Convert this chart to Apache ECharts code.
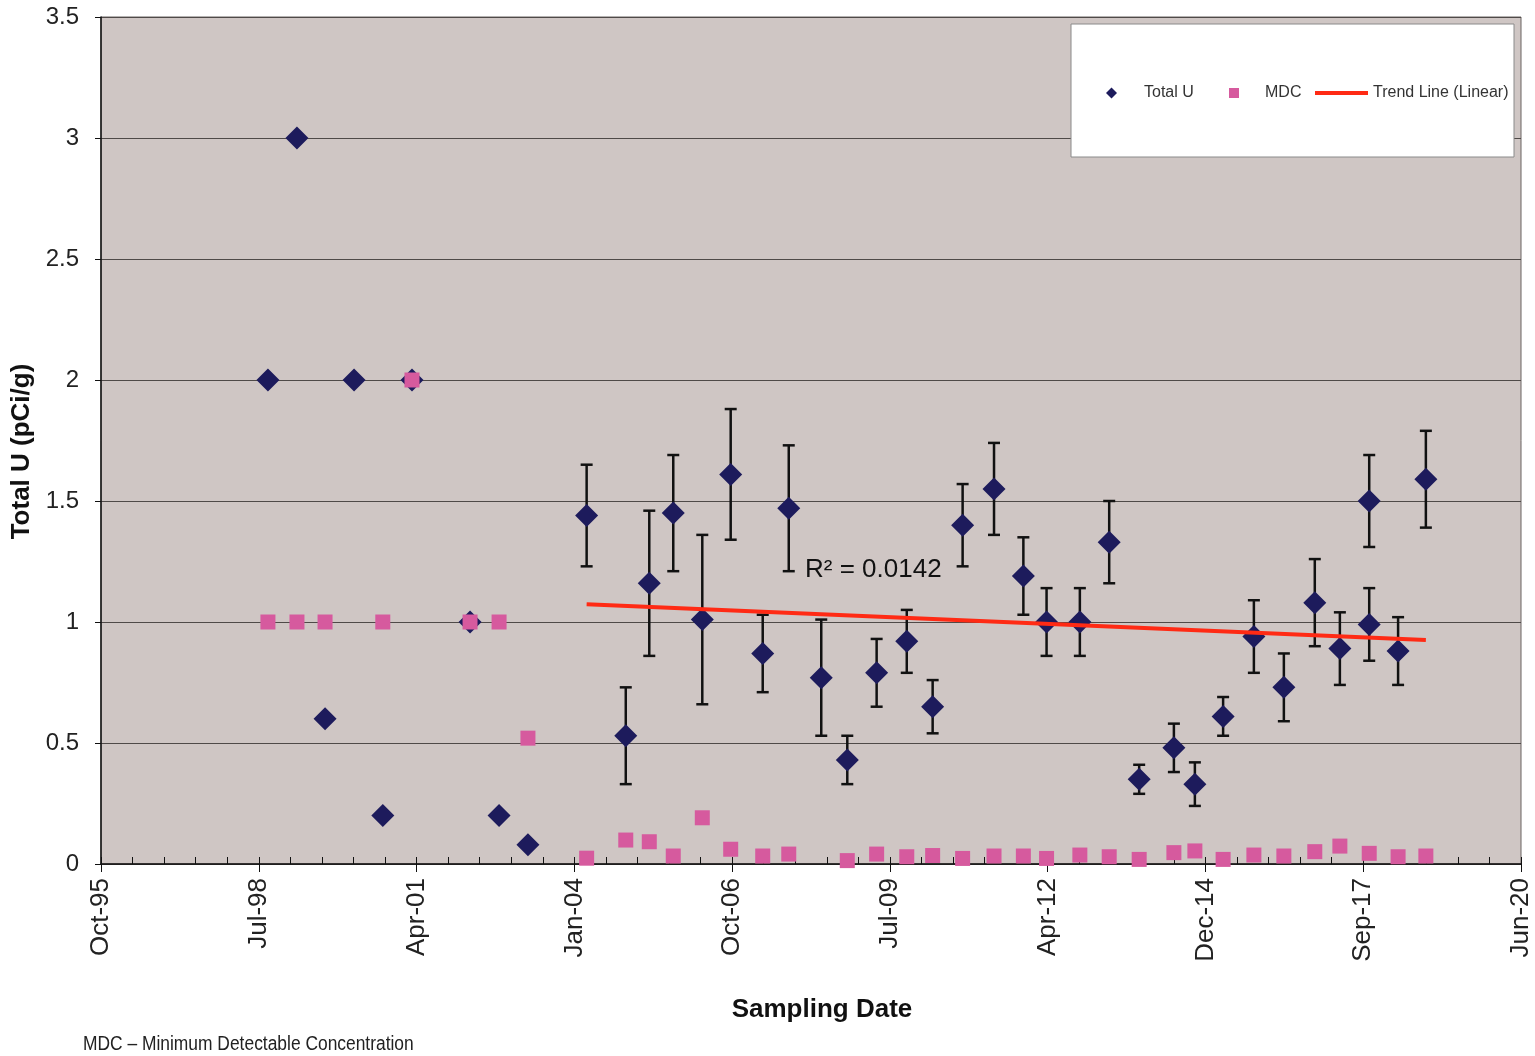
<!DOCTYPE html>
<html>
<head>
<meta charset="utf-8">
<title>Total U</title>
<script src="https://cdn.jsdelivr.net/npm/echarts@6/dist/echarts.min.js"></script>
<style>
  html, body { margin: 0; padding: 0; background: #fff; }
  #main { width: 1535px; height: 1056px; }
</style>
</head>
<body>
<div id="main"></div>
<script>
// sampling dates, results and 1-sigma errors (null where no bar is drawn)
const uDates = ['1998-09-20', '1999-03-23', '1999-09-17', '2000-03-19', '2000-09-17', '2001-03-21', '2002-03-24', '2002-09-24', '2003-03-26',
    '2004-04-01', '2004-12-05', '2005-05-03', '2005-10-02', '2006-04-04', '2006-10-01', '2007-04-22', '2007-10-04', '2008-04-27', '2008-10-09',
    '2009-04-13', '2009-10-21', '2010-04-03', '2010-10-10', '2011-04-27', '2011-10-30', '2012-03-25', '2012-10-22', '2013-04-26', '2013-11-02',
    '2014-06-10', '2014-10-21', '2015-04-18', '2015-10-30', '2016-05-07', '2016-11-19', '2017-04-27', '2017-10-30', '2017-10-30', '2018-05-01',
    '2018-10-24'];
const uValues = [2.0, 3.0, 0.6, 2.0, 0.2, 2.0, 1.0, 0.2, 0.08,
    1.44, 0.53, 1.16, 1.45, 1.01, 1.61, 0.87, 1.47, 0.77, 0.43,
    0.79, 0.92, 0.65, 1.40, 1.55, 1.19, 1.00, 1.00, 1.33, 0.35,
    0.48, 0.33, 0.61, 0.94, 0.73, 1.08, 0.89, 1.50, 0.99, 0.88,
    1.59];
const uErrors = [null, null, null, null, null, null, null, null, null,
    0.21, 0.20, 0.30, 0.24, 0.35, 0.27, 0.16, 0.26, 0.24, 0.10,
    0.14, 0.13, 0.11, 0.17, 0.19, 0.16, 0.14, 0.14, 0.17, 0.06,
    0.10, 0.09, 0.08, 0.15, 0.14, 0.18, 0.15, 0.19, 0.15, 0.14,
    0.20];

const mdcDates = ['1998-09-20', '1999-03-23', '1999-09-17', '2000-09-17', '2001-03-21', '2002-03-24', '2002-09-24', '2003-03-26',
    '2004-04-01', '2004-12-05', '2005-05-03', '2005-10-02', '2006-04-04', '2006-10-01', '2007-04-22', '2007-10-04',
    '2008-10-09', '2009-04-13', '2009-10-21', '2010-04-03',
    '2010-10-10', '2011-04-27', '2011-10-30', '2012-03-25', '2012-10-22', '2013-04-26', '2013-11-02', '2014-06-10', '2014-10-21',
    '2015-04-18', '2015-10-30', '2016-05-07', '2016-11-19', '2017-04-27', '2017-10-30', '2018-05-01', '2018-10-24'];
const mdcValues = [1, 1, 1, 1, 2, 1, 1, 0.52,
    0.024, 0.099, 0.092, 0.033, 0.191, 0.061, 0.033, 0.041,
    0.014, 0.041, 0.030, 0.035,
    0.023, 0.033, 0.033, 0.023, 0.037, 0.030, 0.019, 0.047, 0.054,
    0.019, 0.037, 0.033, 0.051, 0.074, 0.044, 0.030, 0.033];

const trendDates = ['2004-04-01', '2018-10-24'];
const trendValues = [1.073, 0.926];
const trendLabel = 'R² = 0.0142';

const xTicks = { min: 35000, max: 44000, step: 1000 };   // spreadsheet day numbers
const yTicks = { min: 0, max: 3.5, step: 0.5 };

const MONTHS = ['Jan', 'Feb', 'Mar', 'Apr', 'May', 'Jun', 'Jul', 'Aug', 'Sep', 'Oct', 'Nov', 'Dec'];
const EPOCH = Date.UTC(1899, 11, 30);

function toSerial(s) {
    const [y, m, d] = s.split('-').map(Number);
    return Math.round((Date.UTC(y, m - 1, d) - EPOCH) / 86400000);
}

function serialLabel(v) {
    const d = new Date(EPOCH + v * 86400000);
    return MONTHS[d.getUTCMonth()] + '-' + String(d.getUTCFullYear() % 100).padStart(2, '0');
}

const uData = uDates.map((d, i) => [toSerial(d), uValues[i]]);
const errData = [];
uDates.forEach((d, i) => {
    if (uErrors[i] != null) errData.push([toSerial(d), uValues[i], uErrors[i]]);
});
const mdcData = mdcDates.map((d, i) => [toSerial(d), mdcValues[i]]);
const trendData = trendDates.map((d, i) => [toSerial(d), trendValues[i]]);

const FONT = '"Liberation Sans", Arial, sans-serif';

const chart = echarts.init(document.getElementById('main'));

chart.setOption({
    animation: false,
    backgroundColor: '#ffffff',
    textStyle: { fontFamily: FONT },
    grid: {
        left: 101, right: 14, top: 17, bottom: 192,
        show: true, backgroundColor: '#cfc6c4', borderColor: '#6a6462', borderWidth: 1
    },
    legend: [
        {
            data: [{ name: 'Total U', icon: 'diamond' }],
            left: 1106, top: 85, padding: 0, itemWidth: 11, itemHeight: 11,
            textStyle: { fontSize: 16, color: '#333', fontFamily: FONT, padding: [0, 0, 0, 22] },
            z: 6
        },
        {
            data: [{ name: 'MDC', icon: 'rect' }],
            left: 1229, top: 85, padding: 0, itemWidth: 10, itemHeight: 10,
            textStyle: { fontSize: 16, color: '#333', fontFamily: FONT, padding: [0, 0, 0, 21] },
            z: 6
        },
        {
            data: [{ name: 'Trend Line (Linear)', icon: 'rect' }],
            left: 1315, top: 85, padding: 0, itemWidth: 53, itemHeight: 4,
            textStyle: { fontSize: 16, color: '#333', fontFamily: FONT },
            z: 6
        }
    ],
    xAxis: [
        {
            type: 'value',
            min: xTicks.min, max: xTicks.max, interval: xTicks.step,
            axisLine: { lineStyle: { color: '#111', width: 1.5 } },
            axisTick: { show: true, length: 8, lineStyle: { color: '#111' } },
            axisLabel: {
                rotate: 90, fontSize: 26, color: '#222', margin: 14,
                formatter: serialLabel
            },
            splitLine: { show: false },
            name: 'Sampling Date',
            nameLocation: 'middle',
            nameGap: 133,
            nameTextStyle: { fontSize: 26, fontWeight: 'bold', color: '#111', padding: [0, 0, 0, 22] }
        },
        {
            type: 'value',
            position: 'bottom',
            min: xTicks.min, max: xTicks.max, interval: xTicks.step,
            axisLine: { show: false },
            axisLabel: { show: false },
            axisTick: { show: true, inside: true, length: 7, lineStyle: { color: '#111' } },
            minorTick: { show: true, splitNumber: 5, length: 7, lineStyle: { color: '#111' } },
            splitLine: { show: false }
        }
    ],
    yAxis: {
        type: 'value',
        min: yTicks.min, max: yTicks.max, interval: yTicks.step,
        axisLine: { show: true, lineStyle: { color: '#111', width: 1.5 } },
        axisTick: { show: true, length: 6, lineStyle: { color: '#111' } },
        axisLabel: { fontSize: 24, color: '#222', margin: 22 },
        splitLine: { show: true, lineStyle: { color: '#4f4a48', width: 1 } },
        name: 'Total U (pCi/g)',
        nameLocation: 'middle',
        nameRotate: 90,
        nameGap: 63,
        nameTextStyle: { fontSize: 26, fontWeight: 'bold', color: '#111', padding: [0, 22, 0, 0] }
    },
    series: [
        {
            name: 'error',
            type: 'custom',
            z: 2,
            data: errData,
            encode: { x: 0, y: 1 },
            renderItem: function (params, api) {
                const x = api.value(0), y = api.value(1), e = api.value(2);
                const top = api.coord([x, y + e]);
                const bot = api.coord([x, y - e]);
                const w = 6;
                const style = { stroke: '#111', lineWidth: 2.5 };
                return {
                    type: 'group',
                    children: [
                        { type: 'line', shape: { x1: top[0], y1: top[1], x2: bot[0], y2: bot[1] }, style: style },
                        { type: 'line', shape: { x1: top[0] - w, y1: top[1], x2: top[0] + w, y2: top[1] }, style: style },
                        { type: 'line', shape: { x1: bot[0] - w, y1: bot[1], x2: bot[0] + w, y2: bot[1] }, style: style }
                    ]
                };
            }
        },
        {
            name: 'Total U',
            type: 'scatter',
            z: 3,
            symbol: 'diamond',
            symbolSize: 23,
            itemStyle: { color: '#1d1b5c', opacity: 1 },
            data: uData
        },
        {
            name: 'Trend Line (Linear)',
            type: 'line',
            z: 4,
            symbol: 'none',
            lineStyle: { color: '#ff2a14', width: 4 },
            itemStyle: { color: '#ff2a14' },
            data: trendData
        },
        {
            name: 'MDC',
            type: 'scatter',
            z: 5,
            symbol: 'rect',
            symbolSize: 15,
            itemStyle: { color: '#d65a9e', opacity: 1 },
            data: mdcData
        }
    ],
    graphic: [
        {
            type: 'rect', z: 5,
            shape: { x: 1071, y: 24, width: 443, height: 133 },
            style: { fill: '#ffffff', stroke: '#8a8a8a', lineWidth: 1 }
        },
        {
            type: 'text', z: 6, left: 805, top: 557,
            style: { text: trendLabel, fontSize: 26, fill: '#111', fontFamily: FONT }
        },
        {
            // narrow footnote: squeeze the regular face horizontally
            type: 'text', z: 6, x: 83, y: 1034, scaleX: 0.87,
            style: {
                text: 'MDC – Minimum Detectable Concentration',
                x: 0, y: 0, fontSize: 20, fill: '#222', fontFamily: FONT
            }
        }
    ]
});
</script>
</body>
</html>
